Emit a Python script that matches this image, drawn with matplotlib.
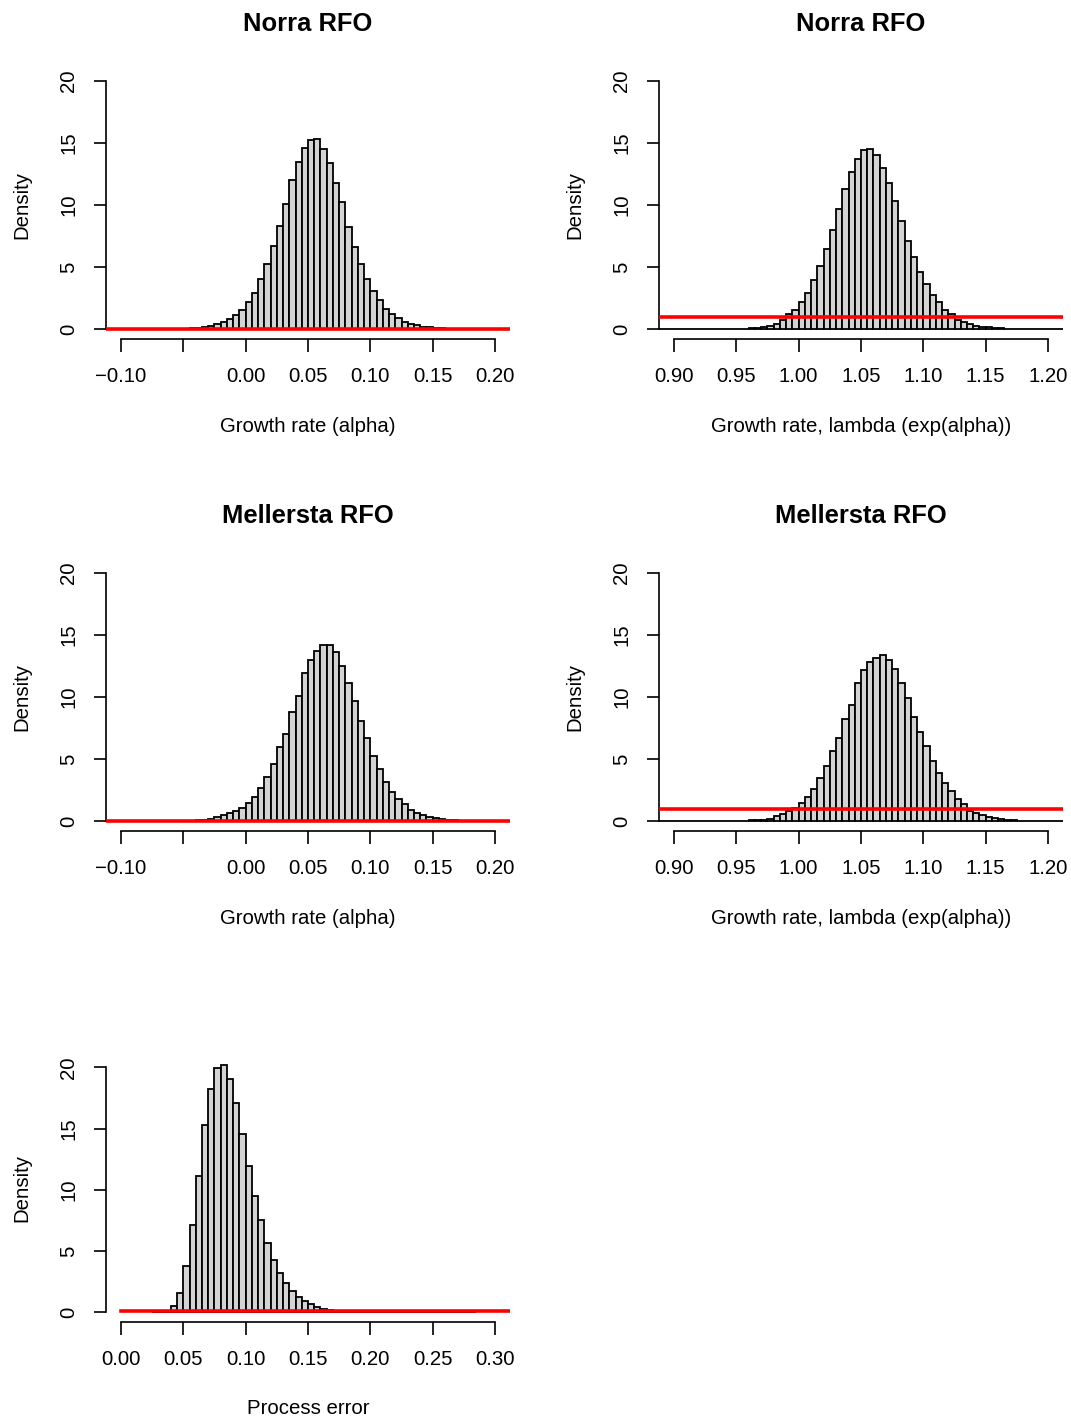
#!/usr/bin/env python3
"""Posteriorfördelningar för tillväxttakt (alpha, lambda) och processfel, R-stil."""

import numpy as np
import matplotlib
matplotlib.use("Agg")
import matplotlib.pyplot as plt  # noqa: E402

BIN_W = 0.005

# Norra RFO, alpha: bins börjar vid -0.050
norra_alpha_start = -0.050
norra_alpha = [0.02, 0.05, 0.10, 0.16, 0.27, 0.38, 0.57, 0.78, 1.10, 1.54, 2.19,
               2.94, 4.02, 5.24, 6.72, 8.34, 10.10, 12.04, 13.44, 14.63, 15.22,
               15.30, 14.49, 13.39, 11.77, 10.23, 8.20, 6.59, 5.24, 4.02, 3.08,
               2.32, 1.59, 1.19, 0.86, 0.59, 0.43, 0.30, 0.19, 0.13, 0.08, 0.05,
               0.03, 0.02, 0.01]

# Norra RFO, lambda: bins börjar vid 0.950
norra_lambda_start = 0.950
norra_lambda = [0.02, 0.04, 0.07, 0.10, 0.16, 0.27, 0.43, 0.76, 1.19, 1.54, 2.19,
                2.94, 3.97, 5.10, 6.45, 8.02, 9.64, 11.29, 12.66, 13.74, 14.47,
                14.55, 14.03, 13.01, 11.77, 10.36, 8.69, 7.07, 5.77, 4.59, 3.67,
                2.75, 2.16, 1.54, 1.21, 0.76, 0.57, 0.38, 0.27, 0.19, 0.13, 0.08,
                0.05, 0.03, 0.02, 0.01]

# Mellersta RFO, alpha
mell_alpha_start = -0.050
mell_alpha = [0.02, 0.04, 0.07, 0.10, 0.20, 0.30, 0.46, 0.62, 0.78, 1.03, 1.48,
              1.97, 2.65, 3.59, 4.59, 5.94, 7.02, 8.83, 10.12, 11.93, 13.01,
              13.68, 14.17, 14.17, 13.60, 12.47, 11.12, 9.64, 8.04, 6.69, 5.26,
              4.18, 3.18, 2.38, 1.75, 1.35, 0.89, 0.65, 0.49, 0.32, 0.22, 0.16,
              0.10, 0.06, 0.04, 0.02, 0.01]

# Mellersta RFO, lambda
mell_lambda_start = 0.950
mell_lambda = [0.02, 0.03, 0.05, 0.08, 0.12, 0.20, 0.38, 0.59, 0.78, 1.08, 1.48,
               1.97, 2.62, 3.50, 4.40, 5.67, 6.69, 8.23, 9.39, 11.12, 12.15,
               12.80, 13.17, 13.41, 13.00, 12.25, 11.12, 9.91, 8.37, 7.21, 6.07,
               4.86, 3.91, 3.05, 2.40, 1.78, 1.40, 0.78, 0.62, 0.46, 0.32, 0.22,
               0.16, 0.10, 0.06, 0.04, 0.02, 0.01]

# Processfel: bins börjar vid 0.025
proc_start = 0.025
proc_err = [0.00, 0.01, 0.05, 0.49, 1.60, 3.76, 7.13, 11.10, 15.32, 18.23, 19.95,
            20.19, 19.02, 17.06, 14.53, 11.95, 9.50, 7.56, 5.66, 4.22, 3.21,
            2.37, 1.69, 1.20, 0.90, 0.63, 0.41, 0.27, 0.19, 0.12, 0.08, 0.05,
            0.03, 0.02, 0.01, 0.01, 0.0, 0.0, 0.0, 0.0, 0.0, 0.0, 0.0, 0.0,
            0.0, 0.0, 0.0, 0.0, 0.0, 0.0, 0.0, 0.0]

# priortäthet (röd linje)
prior_alpha = 0.02
prior_lambda_norra = 1.0
prior_lambda_mell = 0.95
prior_proc = 0.08
prior_proc_range = (0.0, 0.32)

alpha_ticks = [-0.10, -0.05, 0.00, 0.05, 0.10, 0.15, 0.20]
alpha_labels = ["\u22120.10", "", "0.00", "0.05", "0.10", "0.15", "0.20"]
lambda_ticks = [0.90, 0.95, 1.00, 1.05, 1.10, 1.15, 1.20]
proc_ticks = [0.00, 0.05, 0.10, 0.15, 0.20, 0.25, 0.30]
y_ticks = [0, 5, 10, 15, 20]

plt.rcParams["font.family"] = ["Liberation Sans", "DejaVu Sans"]
plt.rcParams["font.size"] = 14.7

W, H = 1071, 1421
fig = plt.figure(figsize=(W / 100, H / 100), dpi=100)


def make_ax(left_px, top_px, right_px, bottom_px):
    return fig.add_axes([left_px / W, 1 - bottom_px / H,
                         (right_px - left_px) / W, (bottom_px - top_px) / H])


def hist_panel(ax, start, heights, lo, hi, pad_lo, pad_hi, ymax, ticks, labels,
               xlabel, title=None):
    # tomma bins i kanterna ritas som linjer på noll, som i R
    n_lo = int(round((start - pad_lo) / BIN_W))
    n_hi = int(round((pad_hi - start) / BIN_W)) - len(heights)
    h = np.concatenate([np.zeros(n_lo), heights, np.zeros(max(n_hi, 0))])
    edges = pad_lo + BIN_W * np.arange(len(h))
    ax.bar(edges, h, width=BIN_W, align="edge", color="#d3d3d3",
           edgecolor="black", linewidth=1.3, zorder=2)

    ext = 0.04 * (hi - lo)
    ax.set_xlim(lo - ext, hi + ext)
    ax.set_ylim(-0.04 * ymax, ymax * 1.04)
    for s in ("top", "right"):
        ax.spines[s].set_visible(False)
    ax.spines["left"].set_bounds(0, 20)
    ax.spines["bottom"].set_bounds(lo, hi)
    ax.spines["left"].set_linewidth(1.2)
    ax.spines["bottom"].set_linewidth(1.2)
    ax.set_xticks(ticks)
    ax.set_xticklabels(labels)
    ax.set_yticks(y_ticks)
    ax.set_yticklabels([str(v) for v in y_ticks], rotation=90, va="center")
    ax.tick_params(length=9, width=1.2, direction="out")
    ax.tick_params(axis="x", pad=11)
    ax.tick_params(axis="y", pad=11)
    ax.set_xlabel(xlabel)
    ax.xaxis.set_label_coords(0.5, -0.325)
    ax.xaxis.label.set_va("center")
    ax.set_ylabel("Density")
    ax.yaxis.set_label_coords(-0.208, 0.5)
    ax.yaxis.label.set_va("center")
    if title:
        ax.set_title(title, fontsize=18.4, fontweight="bold", pad=29)


ax1 = make_ax(106, 71, 510, 339)
hist_panel(ax1, norra_alpha_start, norra_alpha, -0.10, 0.20, -0.15, 0.25, 20,
           alpha_ticks, alpha_labels, "Growth rate (alpha)", "Norra RFO")
ax1.axhline(prior_alpha, color="red", linewidth=2.6, zorder=3)

ax2 = make_ax(659, 71, 1063, 339)
hist_panel(ax2, norra_lambda_start, norra_lambda, 0.90, 1.20, 0.85, 1.25, 20,
           lambda_ticks, [f"{t:.2f}" for t in lambda_ticks],
           "Growth rate, lambda (exp(alpha))", "Norra RFO")
ax2.axhline(prior_lambda_norra, color="red", linewidth=2.6, zorder=3)

ax3 = make_ax(106, 563, 510, 831)
hist_panel(ax3, mell_alpha_start, mell_alpha, -0.10, 0.20, -0.15, 0.25, 20,
           alpha_ticks, alpha_labels, "Growth rate (alpha)", "Mellersta RFO")
ax3.axhline(prior_alpha, color="red", linewidth=2.6, zorder=3)

ax4 = make_ax(659, 563, 1063, 831)
hist_panel(ax4, mell_lambda_start, mell_lambda, 0.90, 1.20, 0.85, 1.25, 20,
           lambda_ticks, [f"{t:.2f}" for t in lambda_ticks],
           "Growth rate, lambda (exp(alpha))", "Mellersta RFO")
ax4.axhline(prior_lambda_mell, color="red", linewidth=2.6, zorder=3)

ax5 = make_ax(106, 1055, 510, 1322)
hist_panel(ax5, proc_start, proc_err, 0.0, 0.30, proc_start,
           proc_start + BIN_W * len(proc_err), 20.2,
           proc_ticks, [f"{t:.2f}" for t in proc_ticks], "Process error")
ax5.plot(prior_proc_range, [prior_proc, prior_proc], color="red",
         linewidth=2.6, zorder=3)

fig.savefig("out.png", dpi=100)
